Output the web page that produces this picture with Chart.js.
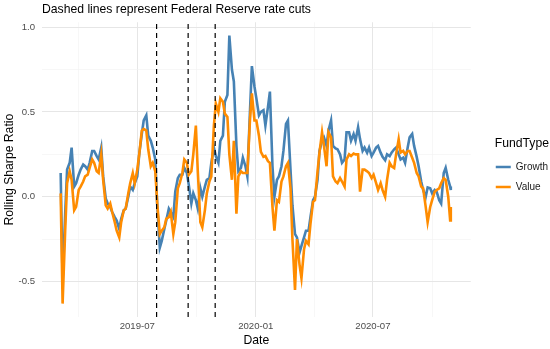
<!DOCTYPE html>
<html>
<head>
<meta charset="utf-8">
<script src="https://cdn.jsdelivr.net/npm/chart.js@4.4.1/dist/chart.umd.min.js"></script>
<style>
  html, body { margin: 0; padding: 0; background: #fff; }
  canvas { display: block; }
</style>
</head>
<body>
<canvas id="myChart" width="550" height="349"></canvas>
<script>
const dates = [
  "2019-03-04", "2019-03-07", "2019-03-11", "2019-03-14", "2019-03-18", "2019-03-21", "2019-03-25", "2019-03-28",
  "2019-04-01", "2019-04-04", "2019-04-08", "2019-04-11", "2019-04-15", "2019-04-18", "2019-04-22", "2019-04-25",
  "2019-04-29", "2019-05-02", "2019-05-06", "2019-05-09", "2019-05-13", "2019-05-16", "2019-05-20", "2019-05-23",
  "2019-05-27", "2019-05-30", "2019-06-03", "2019-06-06", "2019-06-10", "2019-06-13", "2019-06-17", "2019-06-20",
  "2019-06-24", "2019-06-27", "2019-07-01", "2019-07-04", "2019-07-08", "2019-07-11", "2019-07-15", "2019-07-18",
  "2019-07-22", "2019-07-25", "2019-07-29", "2019-08-01", "2019-08-05", "2019-08-08", "2019-08-12", "2019-08-15",
  "2019-08-19", "2019-08-22", "2019-08-26", "2019-08-29", "2019-09-02", "2019-09-05", "2019-09-09", "2019-09-12",
  "2019-09-16", "2019-09-19", "2019-09-23", "2019-09-26", "2019-09-30", "2019-10-03", "2019-10-07", "2019-10-10",
  "2019-10-14", "2019-10-17", "2019-10-21", "2019-10-24", "2019-10-28", "2019-10-31", "2019-11-04", "2019-11-07",
  "2019-11-11", "2019-11-14", "2019-11-18", "2019-11-21", "2019-11-25", "2019-11-28", "2019-12-02", "2019-12-05",
  "2019-12-09", "2019-12-12", "2019-12-16", "2019-12-19", "2019-12-23", "2019-12-26", "2019-12-30", "2020-01-02",
  "2020-01-06", "2020-01-09", "2020-01-13", "2020-01-16", "2020-01-20", "2020-01-23", "2020-01-27", "2020-01-30",
  "2020-02-03", "2020-02-06", "2020-02-10", "2020-02-13", "2020-02-17", "2020-02-20", "2020-02-24", "2020-02-27",
  "2020-03-02", "2020-03-05", "2020-03-09", "2020-03-12", "2020-03-16", "2020-03-19", "2020-03-23", "2020-03-26",
  "2020-03-30", "2020-04-02", "2020-04-06", "2020-04-09", "2020-04-13", "2020-04-16", "2020-04-20", "2020-04-23",
  "2020-04-27", "2020-04-30", "2020-05-04", "2020-05-07", "2020-05-11", "2020-05-14", "2020-05-18", "2020-05-21",
  "2020-05-25", "2020-05-28", "2020-06-01", "2020-06-04", "2020-06-08", "2020-06-11", "2020-06-15", "2020-06-18",
  "2020-06-22", "2020-06-25", "2020-06-29", "2020-07-02", "2020-07-06", "2020-07-09", "2020-07-13", "2020-07-16",
  "2020-07-20", "2020-07-23", "2020-07-27", "2020-07-30", "2020-08-03", "2020-08-06", "2020-08-10", "2020-08-13",
  "2020-08-17", "2020-08-20", "2020-08-24", "2020-08-27", "2020-08-31", "2020-09-03", "2020-09-07", "2020-09-10",
  "2020-09-14", "2020-09-17", "2020-09-21", "2020-09-24", "2020-09-28", "2020-10-01", "2020-10-05", "2020-10-08",
  "2020-10-12", "2020-10-15", "2020-10-19", "2020-10-22", "2020-10-26", "2020-10-29", "2020-10-30"
];
const growth = [
  0.14, -0.50, -0.10, 0.16, 0.20, 0.29, 0.06, 0.08,
  0.13, 0.16, 0.19, 0.18, 0.16, 0.20, 0.27, 0.27,
  0.24, 0.22, 0.29, 0.12, -0.01, -0.04, -0.06, -0.09,
  -0.12, -0.14, -0.19, -0.13, -0.08, -0.07, 0.00, 0.06,
  0.04, 0.08, 0.12, 0.25, 0.37, 0.45, 0.48, 0.36,
  0.33, 0.29, 0.22, -0.05, -0.30, -0.26, -0.19, -0.14,
  -0.07, -0.09, -0.12, 0.03, 0.11, 0.13, 0.13, 0.17,
  0.14, 0.07, -0.04, 0.02, -0.02, -0.07, 0.05, 0.00,
  0.06, 0.10, 0.11, 0.20, 0.29, 0.24, 0.20, 0.33,
  0.36, 0.56, 0.60, 0.95, 0.75, 0.68, 0.30, 0.15,
  0.17, 0.23, 0.18, 0.12, 0.50, 0.77, 0.65, 0.58,
  0.48, 0.50, 0.51, 0.42, 0.53, 0.62, 0.18, 0.00,
  0.10, 0.12, 0.18, 0.27, 0.43, 0.45, 0.16, -0.05,
  -0.22, -0.24, -0.33, -0.29, -0.24, -0.20, -0.20, -0.12,
  -0.02, 0.00, 0.10, 0.27, 0.33, 0.35, 0.30, 0.39,
  0.45, 0.30, 0.285, 0.28, 0.25, 0.20, 0.22, 0.38,
  0.38, 0.33, 0.37, 0.33, 0.41, 0.34, 0.27, 0.29,
  0.26, 0.29, 0.24, 0.26, 0.29, 0.30, 0.26, 0.235,
  0.215, 0.25, 0.24, 0.26, 0.28, 0.29, 0.25, 0.22,
  0.23, 0.20, 0.29, 0.35, 0.37, 0.30, 0.235, 0.18,
  0.09, 0.04, 0.00, 0.055, 0.05, 0.02, 0.04, 0.03,
  -0.02, -0.04, 0.14, 0.17, 0.10, 0.06, 0.04
];
const value = [
  0.02, -0.63, -0.20, 0.08, 0.15, 0.10, -0.08, -0.06,
  0.04, 0.06, 0.09, 0.12, 0.13, 0.17, 0.22, 0.20,
  0.15, 0.14, 0.25, 0.10, -0.05, -0.07, -0.04, -0.09,
  -0.15, -0.20, -0.24, -0.15, -0.08, -0.07, 0.02, 0.08,
  0.14, 0.08, 0.16, 0.25, 0.39, 0.40, 0.39, 0.28,
  0.18, 0.20, 0.15, -0.04, -0.22, -0.20, -0.18, -0.13,
  -0.12, -0.09, -0.22, -0.15, 0.05, 0.08, 0.14, 0.22,
  0.20, 0.13, 0.15, 0.25, 0.42, 0.15, -0.15, -0.18,
  -0.08, 0.02, 0.09, 0.12, 0.42, 0.55, 0.50, 0.58,
  0.56, 0.49, 0.47, 0.25, 0.10, 0.33, -0.10, 0.12,
  0.15, 0.14, 0.14, 0.14, 0.45, 0.61, 0.45, 0.45,
  0.36, 0.265, 0.235, 0.24, 0.21, 0.20, -0.06, -0.20,
  -0.02, -0.03, 0.09, 0.12, 0.18, 0.20, 0.05, -0.25,
  -0.55, -0.25, -0.40, -0.48, -0.31, -0.26, -0.28, -0.16,
  -0.03, -0.02, 0.15, 0.26, 0.38, 0.30, 0.18, 0.38,
  0.35, 0.12, 0.09, 0.08, 0.11, 0.09, 0.06, 0.22,
  0.25, 0.24, 0.255, 0.25, 0.25, 0.03, 0.16, 0.16,
  0.15, 0.14, 0.11, 0.13, 0.08, 0.04, 0.08, 0.04,
  0.00, 0.10, 0.20, 0.18, 0.17, 0.25, 0.34, 0.26,
  0.27, 0.25, 0.27, 0.27, 0.23, 0.20, 0.14, 0.12,
  0.06, 0.05, -0.06, -0.15, -0.06, -0.02, 0.03, 0.04,
  0.05, 0.08, 0.11, 0.10, 0.00, -0.14, -0.06
];

// Federal Reserve rate cuts
const cutDates = ["2019-07-31", "2019-09-18", "2019-10-30"];

// axes
const xRange = ["2019-02-03", "2020-11-30"];
const xTickDates = ["2019-04-01", "2019-07-01", "2019-10-01", "2020-01-01", "2020-04-01", "2020-07-01", "2020-10-01"];
const xTickLabels = ["", "2019-07", "", "2020-01", "", "2020-07", ""];
const yRange = [-0.709, 1.029];
const yTicks = [-0.5, -0.25, 0, 0.25, 0.5, 0.75, 1.0];
const yTickLabels = ["-0.5", "", "0.0", "", "0.5", "", "1.0"];

const toTime = d => Date.parse(d);
const points = vals => dates.map((d, i) => ({ x: toTime(d), y: vals[i] }));

Chart.defaults.font.family = "'Liberation Sans', Arial, sans-serif";

const cutSets = cutDates.map(d => ({
  label: "cut " + d,
  data: [{ x: toTime(d), y: yRange[0] }, { x: toTime(d), y: yRange[1] }],
  borderColor: "#000",
  borderWidth: 1.2,
  borderDash: [5, 4],
  pointRadius: 0,
  order: 0
}));

const gridColor = (labels) => ctx => labels[ctx.index] ? "#e6e6e6" : "#f1f1f1";
const gridWidth = (labels) => ctx => labels[ctx.index] ? 1 : 0.6;

const myChart = new Chart("myChart", {
  type: "line",
  data: {
    datasets: [
      { label: "Growth", data: points(growth), borderColor: "#4682B4", backgroundColor: "#4682B4",
        borderWidth: 2.6, pointRadius: 0, tension: 0, order: 2 },
      { label: "Value", data: points(value), borderColor: "#FF8C00", backgroundColor: "#FF8C00",
        borderWidth: 2.6, pointRadius: 0, tension: 0, order: 1 },
      ...cutSets
    ]
  },
  options: {
    responsive: false,
    animation: false,
    layout: { padding: { left: 0, right: -8, top: 0, bottom: 0 } },
    scales: {
      x: {
        type: "linear",
        min: toTime(xRange[0]),
        max: toTime(xRange[1]),
        afterBuildTicks: s => { s.ticks = xTickDates.map(d => ({ value: toTime(d) })); },
        afterFit: s => { s.height = 32; },
        ticks: {
          autoSkip: false, maxRotation: 0, padding: 4, color: "#4d4d4d", font: { size: 9.6 },
          callback: (v, i) => xTickLabels[i]
        },
        grid: { drawTicks: false, color: gridColor(xTickLabels), lineWidth: gridWidth(xTickLabels) },
        border: { display: false },
        title: { display: true, text: "Date", color: "#000", font: { size: 12.2 }, padding: { top: 0, bottom: 1.2 } }
      },
      y: {
        min: yRange[0],
        max: yRange[1],
        afterBuildTicks: s => { s.ticks = yTicks.map(v => ({ value: v })); },
        afterFit: s => { s.width = 42; },
        ticks: {
          padding: 7, color: "#4d4d4d", font: { size: 9.6 },
          callback: (v, i) => yTickLabels[i]
        },
        grid: { drawTicks: false, color: gridColor(yTickLabels), lineWidth: gridWidth(yTickLabels) },
        border: { display: false },
        title: { display: true, text: "Rolling Sharpe Ratio", color: "#000", font: { size: 12.2 }, padding: { top: 2.7, bottom: 0 } }
      },
      // empty spacer between the panel and the legend
      gap: {
        position: "right",
        display: true,
        grid: { display: false, drawTicks: false },
        border: { display: false },
        ticks: { display: false },
        afterFit: s => { s.width = 15; }
      }
    },
    plugins: {
      title: {
        display: true,
        text: "Dashed lines represent Federal Reserve rate cuts",
        align: "start",
        fullSize: false,
        color: "#000",
        font: { size: 12.2, weight: "normal" },
        padding: { top: 2.7, bottom: 4.9 }
      },
      legend: {
        position: "right",
        align: "center",
        fullSize: false,
        title: { display: true, text: "FundType", color: "#000", font: { size: 12.2 }, padding: { top: 0, bottom: 0 } },
        labels: {
          usePointStyle: true, pointStyle: "line", pointStyleWidth: 15,
          font: { size: 10 }, color: "#1a1a1a", padding: 10,
          filter: item => !item.text.startsWith("cut"),
          sort: (a, b) => a.datasetIndex - b.datasetIndex
        }
      },
      tooltip: { enabled: false }
    }
  }
});
</script>
</body>
</html>
